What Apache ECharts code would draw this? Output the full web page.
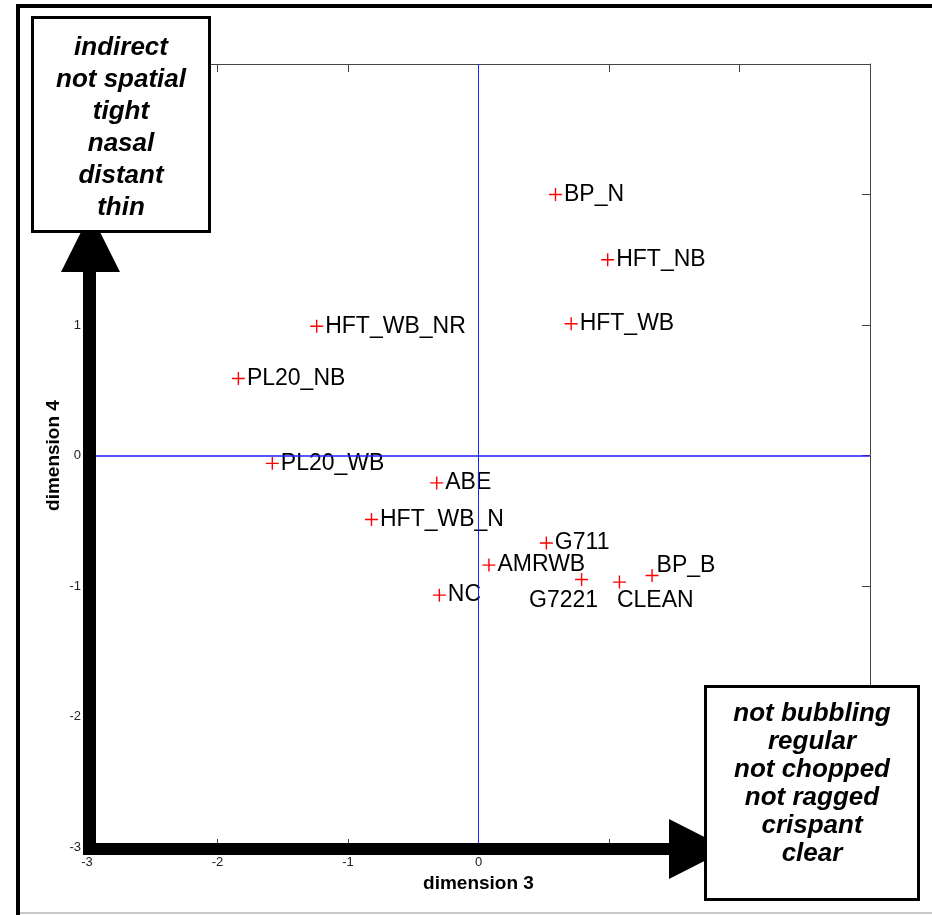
<!DOCTYPE html>
<html>
<head>
<meta charset="utf-8">
<script src="https://cdn.jsdelivr.net/npm/echarts@6/dist/echarts.min.js"></script>
<style>
  html, body { margin: 0; padding: 0; background: #fff; }
  #chart { width: 932px; height: 915px; }
</style>
</head>
<body>
<div id="chart"></div>
<script>
// codec conditions (dimension 3 vs dimension 4)
const names = ['BP_N', 'HFT_NB', 'HFT_WB', 'HFT_WB_NR', 'PL20_NB', 'PL20_WB', 'ABE',
               'HFT_WB_N', 'G711', 'AMRWB', 'G7221', 'CLEAN', 'BP_B', 'NC'];
const dim3 = [0.59, 0.99, 0.71, -1.24, -1.84, -1.58, -0.32, -0.82, 0.52, 0.08, 0.79, 1.08, 1.33, -0.30];
const dim4 = [2.00, 1.50, 1.01, 0.99, 0.59, -0.06, -0.21, -0.49, -0.67, -0.84, -0.95, -0.97, -0.92, -1.07];

// tick labels that are visible (the others sit under the boxes / arrows)
const xTickLabels = [-3, -2, -1, 0];
const yTickLabels = [-3, -2, -1, 0, 1];

// the two descriptor boxes
const upperBoxLines = ['indirect', 'not spatial', 'tight', 'nasal', 'distant', 'thin'];
const lowerBoxLines = ['not bubbling', 'regular', 'not chopped', 'not ragged', 'crispant', 'clear'];

const FONT = 'Liberation Sans, Arial, Helvetica, sans-serif';
const BLUE = '#2020ff';

// a few labels were moved by hand in the original so they don't collide
const labelOffsets = {
    G7221: [-61, 21],
    CLEAN: [-11, 19],
    BP_B: [-4, -10]
};

const points = names.map((n, i) => {
    const p = { name: n, value: [dim3[i], dim4[i]] };
    if (labelOffsets[n]) p.label = { offset: labelOffsets[n] };
    return p;
});

const chart = echarts.init(document.getElementById('chart'));

function axisBase(extra) {
    return Object.assign({
        type: 'value',
        min: -3,
        max: 3,
        interval: 1,
        axisLine: { show: true, onZero: false, lineStyle: { color: '#444', width: 1 } },
        axisTick: { show: true, inside: true, length: 8, lineStyle: { color: '#444' } },
        splitLine: { show: false }
    }, extra);
}

const option = {
    backgroundColor: '#fff',
    animation: false,
    grid: { left: 87, right: 62, top: 64, bottom: 68 },
    xAxis: [
        axisBase({
            position: 'bottom',
            name: 'dimension 3',
            nameLocation: 'middle',
            nameGap: 24,
            nameTextStyle: { fontFamily: FONT, fontWeight: 'bold', fontSize: 19, color: '#000' },
            axisLabel: {
                margin: 9,
                fontFamily: FONT,
                fontSize: 13,
                color: '#222',
                formatter: v => xTickLabels.includes(v) ? String(v) : ''
            }
        }),
        axisBase({ position: 'top', axisLabel: { show: false } })
    ],
    yAxis: [
        axisBase({
            position: 'left',
            name: 'dimension 4',
            nameLocation: 'middle',
            nameGap: 24,
            nameMoveOverlap: false,
            nameTextStyle: { fontFamily: FONT, fontWeight: 'bold', fontSize: 19, color: '#000' },
            axisLabel: {
                margin: 6,
                fontFamily: FONT,
                fontSize: 13,
                color: '#222',
                formatter: v => yTickLabels.includes(v) ? String(v) : ''
            }
        }),
        axisBase({ position: 'right', axisLabel: { show: false } })
    ],
    series: [{
        type: 'scatter',
        data: points,
        // red "+" marker, as in the matlab plot
        symbol: 'path://M5.8,0h1.4v13h-1.4z M0,5.8h13v1.4h-13z',
        symbolSize: 13,
        itemStyle: { color: '#ff0000', opacity: 1 },
        label: {
            show: true,
            position: 'right',
            distance: 2,
            formatter: '{b}',
            fontFamily: FONT,
            fontSize: 23,
            color: '#000'
        },
        markLine: {
            silent: true,
            symbol: 'none',
            animation: false,
            label: { show: false },
            emphasis: { disabled: true },
            data: [
                { xAxis: 0, lineStyle: { color: BLUE, width: 1, type: 'solid' } },
                { yAxis: 0, lineStyle: { color: BLUE, width: 1.5, type: 'solid' } }
            ]
        },
        z: 3
    }],
    graphic: [
        // figure frame
        { type: 'rect', shape: { x: 16, y: 4, width: 916, height: 4 }, style: { fill: '#000' }, z: 100 },
        { type: 'rect', shape: { x: 16, y: 4, width: 4, height: 911 }, style: { fill: '#000' }, z: 100 },
        { type: 'rect', shape: { x: 20, y: 912, width: 912, height: 2 }, style: { fill: '#c8c8c8' }, z: 100 },
        // vertical arrow
        { type: 'rect', shape: { x: 83, y: 270, width: 13, height: 585 }, style: { fill: '#000' }, z: 100 },
        { type: 'polygon', shape: { points: [[61, 272], [120, 272], [90.5, 213]] }, style: { fill: '#000' }, z: 100 },
        // horizontal arrow
        { type: 'rect', shape: { x: 83, y: 843, width: 588, height: 12 }, style: { fill: '#000' }, z: 100 },
        { type: 'polygon', shape: { points: [[669, 819], [669, 879], [728, 849]] }, style: { fill: '#000' }, z: 100 },
        // upper-left box
        {
            type: 'rect', shape: { x: 32.5, y: 17.5, width: 177, height: 214 },
            style: { fill: '#fff', stroke: '#000', lineWidth: 3 }, z: 101
        },
        {
            type: 'text', x: 121, y: 128, z: 102,
            style: {
                text: upperBoxLines.join('\n'), fontFamily: FONT, fontSize: 26, fontWeight: 'bold',
                fontStyle: 'italic', lineHeight: 32, align: 'center', verticalAlign: 'middle', fill: '#000'
            }
        },
        // lower-right box
        {
            type: 'rect', shape: { x: 705.5, y: 686.5, width: 213, height: 213 },
            style: { fill: '#fff', stroke: '#000', lineWidth: 3 }, z: 101
        },
        {
            type: 'text', x: 812, y: 784, z: 102,
            style: {
                text: lowerBoxLines.join('\n'), fontFamily: FONT, fontSize: 26, fontWeight: 'bold',
                fontStyle: 'italic', lineHeight: 28, align: 'center', verticalAlign: 'middle', fill: '#000'
            }
        }
    ]
};

chart.setOption(option);
</script>
</body>
</html>
